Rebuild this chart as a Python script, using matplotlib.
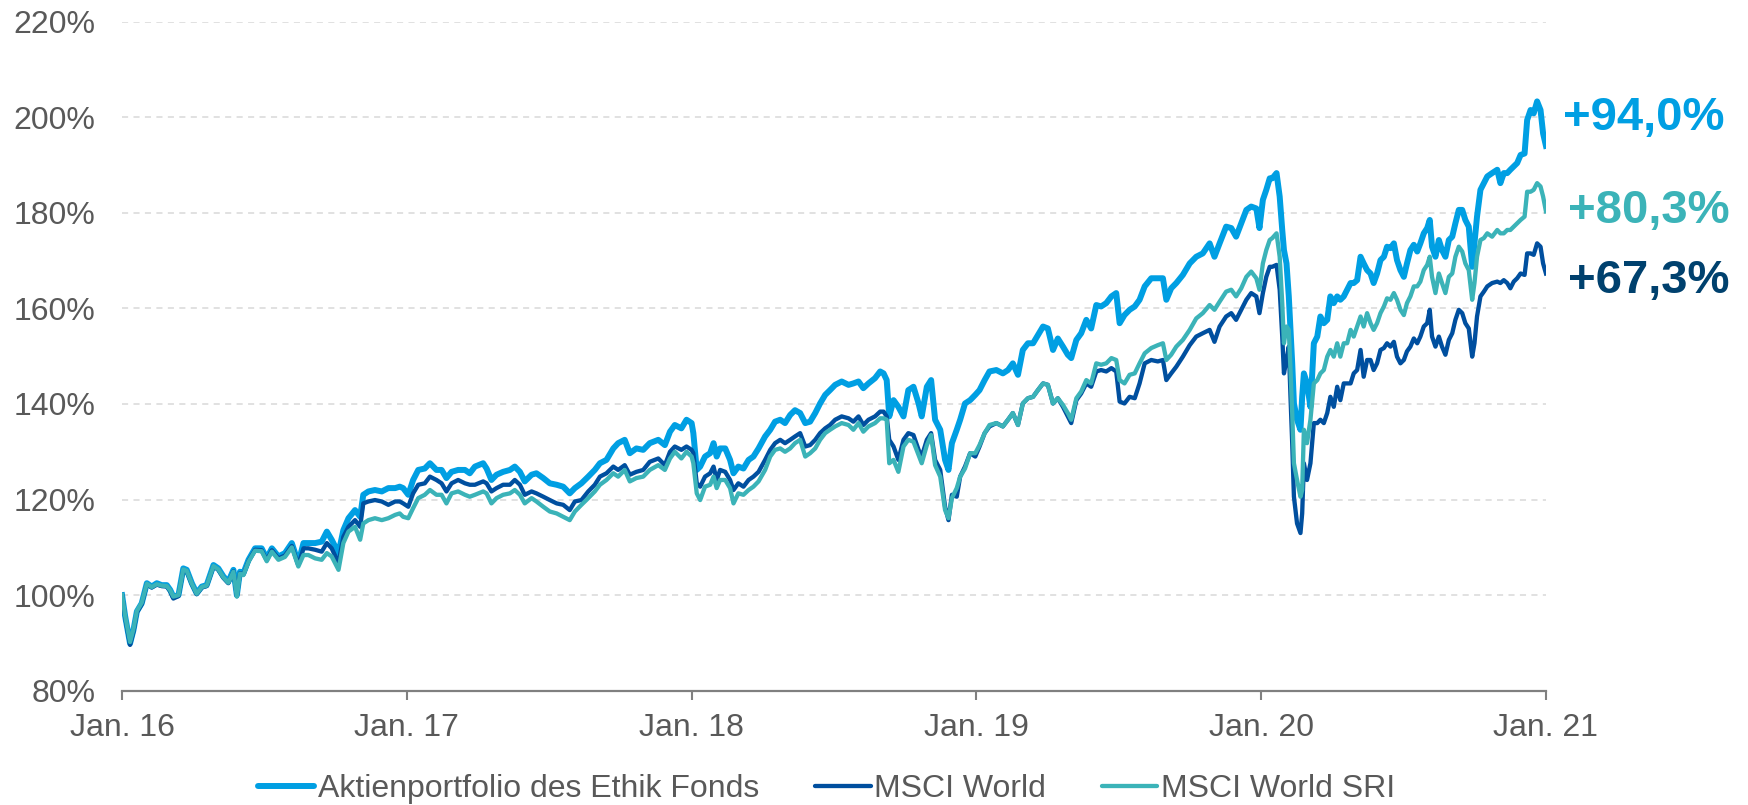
import matplotlib.pyplot as plt
from matplotlib.lines import Line2D

plt.rcParams['font.family'] = ['Liberation Sans', 'DejaVu Sans']

# Zeitachse in Dezimaljahren, Werte in % (Start = 100)
t_years = [
    2016.000, 2016.011, 2016.028, 2016.040, 2016.052, 2016.069, 2016.087, 2016.104, 2016.122, 2016.139,
    2016.157, 2016.169, 2016.180, 2016.198, 2016.215, 2016.227, 2016.245, 2016.262, 2016.280, 2016.297,
    2016.321, 2016.338, 2016.356, 2016.373, 2016.391, 2016.403, 2016.414, 2016.426, 2016.444, 2016.467,
    2016.490, 2016.508, 2016.526, 2016.549, 2016.572, 2016.596, 2016.619, 2016.637, 2016.654, 2016.678,
    2016.701, 2016.719, 2016.736, 2016.760, 2016.777, 2016.795, 2016.818, 2016.836, 2016.847, 2016.865,
    2016.888, 2016.912, 2016.935, 2016.959,
    2016.975, 2016.987, 2017.005, 2017.022, 2017.040, 2017.063, 2017.081, 2017.104, 2017.122, 2017.139,
    2017.157, 2017.180, 2017.204, 2017.221, 2017.239, 2017.268, 2017.280, 2017.297, 2017.315, 2017.338,
    2017.362, 2017.379, 2017.397, 2017.414, 2017.438, 2017.455, 2017.479, 2017.502, 2017.526, 2017.549,
    2017.572, 2017.590, 2017.613, 2017.637, 2017.660, 2017.678, 2017.701, 2017.725, 2017.742, 2017.765,
    2017.783, 2017.806, 2017.830, 2017.853, 2017.883, 2017.906, 2017.924, 2017.941, 2017.964, 2017.982,
    2018.000,
    2018.006, 2018.018, 2018.030, 2018.047, 2018.065, 2018.077, 2018.088, 2018.100, 2018.118, 2018.135,
    2018.147, 2018.164, 2018.182, 2018.200, 2018.217, 2018.235, 2018.258, 2018.276, 2018.293, 2018.311,
    2018.328, 2018.346, 2018.363, 2018.381, 2018.399, 2018.416, 2018.434, 2018.451, 2018.469, 2018.486,
    2018.504, 2018.527, 2018.551, 2018.568, 2018.586, 2018.603, 2018.621, 2018.644, 2018.662, 2018.674,
    2018.685, 2018.694, 2018.709, 2018.726, 2018.744, 2018.761, 2018.779, 2018.797, 2018.808, 2018.826,
    2018.841, 2018.855, 2018.873, 2018.890, 2018.902, 2018.914, 2018.931, 2018.943, 2018.960, 2018.978,
    2018.996,
    2019.011, 2019.029, 2019.046, 2019.070, 2019.093, 2019.111, 2019.128, 2019.146, 2019.163, 2019.181,
    2019.199, 2019.216, 2019.234, 2019.251, 2019.269, 2019.286, 2019.304, 2019.321, 2019.333, 2019.351,
    2019.368, 2019.386, 2019.403, 2019.421, 2019.438, 2019.456, 2019.474, 2019.491, 2019.503, 2019.520,
    2019.538, 2019.556, 2019.573, 2019.591, 2019.614, 2019.637, 2019.655, 2019.667, 2019.684, 2019.702,
    2019.725, 2019.749, 2019.772, 2019.795, 2019.819, 2019.836, 2019.854, 2019.877, 2019.895, 2019.912,
    2019.930, 2019.948, 2019.965, 2019.983, 2019.994,
    2020.006, 2020.018, 2020.030, 2020.039, 2020.054, 2020.065, 2020.074, 2020.080, 2020.089, 2020.097,
    2020.103, 2020.109, 2020.115, 2020.126, 2020.138, 2020.144, 2020.150, 2020.161, 2020.173, 2020.185,
    2020.197, 2020.208, 2020.220, 2020.232, 2020.243, 2020.255, 2020.267, 2020.278, 2020.290, 2020.302,
    2020.314, 2020.325, 2020.337, 2020.349, 2020.360, 2020.372, 2020.384, 2020.395, 2020.407, 2020.419,
    2020.431, 2020.442, 2020.454, 2020.466, 2020.477, 2020.489, 2020.501, 2020.512, 2020.524,
    2020.536, 2020.548, 2020.559, 2020.571, 2020.583, 2020.592, 2020.600, 2020.612, 2020.624, 2020.635,
    2020.647, 2020.659, 2020.671, 2020.682, 2020.694, 2020.706, 2020.717, 2020.729, 2020.741, 2020.749,
    2020.758, 2020.770, 2020.782, 2020.794, 2020.811, 2020.829, 2020.840, 2020.852, 2020.864, 2020.875,
    2020.887, 2020.899, 2020.911, 2020.925, 2020.934, 2020.946, 2020.957, 2020.969, 2020.981, 2020.990,
    2021.000,
]

ethik = [
    100.0, 95.5, 89.9, 92.7, 96.6, 98.3, 102.5, 101.8, 102.5, 102.1,
    102.1, 101.1, 99.7, 100.0, 105.6, 105.3, 102.5, 100.4, 101.8, 102.1,
    106.3, 105.6, 103.9, 102.8, 105.3, 100.0, 104.9, 104.6, 107.4, 109.8,
    109.8, 107.7, 109.8, 108.1, 108.8, 110.9, 106.7, 110.9, 110.9, 110.9,
    111.2, 113.3, 111.6, 108.8, 113.6, 116.1, 117.8, 116.4, 121.0, 121.7,
    122.0, 121.7, 122.4, 122.4,
    122.7, 122.4, 121.0, 124.1, 126.2, 126.5, 127.6, 126.2, 126.2, 124.5,
    125.8, 126.2, 126.2, 125.5, 126.9, 127.6, 126.5, 124.1, 125.2, 125.8,
    126.2, 126.9, 125.8, 123.8, 125.2, 125.5, 124.5, 123.4, 123.1, 122.7,
    121.3, 122.4, 123.4, 124.8, 126.2, 127.6, 128.3, 130.7, 131.8, 132.5,
    129.7, 130.7, 130.4, 131.8, 132.5, 131.4, 134.2, 135.6, 134.9, 136.7,
    136.0,
    133.9, 126.2, 126.9, 129.0, 129.7, 131.8, 129.0, 130.7, 130.7, 128.3,
    125.5, 126.9, 126.5, 128.3, 129.0, 130.7, 133.2, 134.6, 136.3, 136.7,
    136.0, 137.7, 138.7, 138.1, 136.0, 136.3, 138.1, 140.1, 141.9, 142.9,
    144.0, 144.7, 144.0, 144.3, 144.7, 143.3, 144.3, 145.4, 146.8, 146.4,
    145.0, 137.4, 140.8, 139.4, 137.4, 142.9, 143.6, 140.1, 137.4, 143.6,
    145.0, 136.7, 134.6, 128.3, 126.2, 131.8, 134.6, 136.7, 140.1, 140.8,
    141.9,
    142.9, 145.0, 146.8, 147.1, 146.4, 147.1, 148.5, 146.1, 151.3, 152.7,
    152.7, 154.4, 156.2, 155.8, 151.3, 153.7, 152.0, 150.3, 149.6, 153.4,
    154.8, 157.6, 155.8, 160.7, 160.4, 161.1, 162.5, 163.2, 156.9, 158.6,
    159.7, 160.4, 161.8, 164.6, 166.3, 166.3, 166.3, 161.8, 164.2, 165.3,
    167.0, 169.4, 170.8, 171.5, 173.6, 170.8, 173.6, 177.1, 176.8, 175.0,
    177.8, 180.6, 181.3, 180.9, 176.8,
    182.7, 184.8, 187.2, 187.2, 188.3, 183.4, 176.4, 172.2, 169.4, 162.5,
    155.5, 148.5, 140.1, 136.7, 134.6, 141.5, 146.4, 144.3, 139.4, 152.7,
    154.1, 158.3, 156.9, 157.6, 162.5, 161.1, 162.5, 161.8, 162.5, 163.9,
    165.3, 165.3, 165.9, 170.8, 169.4, 168.0, 167.3, 165.3, 167.3, 170.1,
    170.8, 172.9, 172.6, 173.6, 170.1, 168.0, 166.6, 169.4, 172.2,
    173.3, 171.9, 173.6, 175.7, 176.8, 178.5, 172.9, 170.8, 174.3, 172.2,
    170.8, 174.3, 175.0, 177.8, 180.6, 180.6, 178.5, 177.1, 168.7, 173.6,
    179.2, 184.8, 186.2, 187.6, 188.3, 189.0, 186.2, 188.3, 188.3, 189.0,
    189.7, 190.4, 192.1, 192.4, 199.4, 201.5, 200.8, 203.3, 201.5, 196.6,
    194.0,
]

msci_world = [
    100.0, 95.3, 89.6, 92.4, 96.4, 98.1, 102.3, 101.6, 102.2, 101.9,
    101.8, 100.8, 99.3, 99.8, 105.3, 105.0, 102.3, 100.2, 101.6, 101.9,
    106.0, 105.3, 103.6, 102.5, 105.0, 99.8, 104.6, 104.3, 107.1, 109.5,
    109.4, 107.3, 109.4, 107.7, 108.3, 110.3, 106.3, 109.8, 109.8, 109.5,
    109.1, 110.9, 109.8, 106.7, 112.2, 114.3, 115.7, 114.3, 119.2, 119.6,
    119.9, 119.6, 118.9, 119.6,
    119.6, 119.2, 118.5, 121.3, 123.1, 123.4, 124.8, 124.1, 123.4, 121.7,
    123.4, 124.1, 123.4, 123.1, 123.1, 123.8, 123.4, 121.7, 122.4, 123.1,
    123.1, 124.1, 123.1, 121.0, 121.7, 121.3, 120.6, 119.9, 119.2, 118.9,
    117.8, 119.6, 119.9, 121.7, 123.1, 124.8, 125.5, 126.9, 126.2, 127.2,
    125.2, 125.8, 126.2, 127.9, 128.6, 127.2, 130.0, 131.1, 130.4, 131.1,
    130.4,
    129.7, 123.4, 122.7, 124.8, 125.5, 126.9, 124.1, 126.2, 125.8, 124.1,
    122.0, 123.4, 122.7, 124.1, 124.8, 125.8, 128.3, 130.4, 131.8, 132.5,
    131.8, 132.5, 133.2, 133.9, 131.1, 131.4, 132.5, 133.9, 134.9, 135.6,
    136.7, 137.4, 137.0, 136.3, 137.4, 135.6, 136.7, 137.4, 138.4, 138.4,
    137.4, 132.5, 131.1, 128.3, 132.5, 133.9, 133.5, 130.4, 129.0, 132.5,
    133.9, 128.3, 126.2, 118.5, 115.7, 121.0, 120.6, 124.8, 126.9, 129.7,
    129.0,
    131.1, 133.9, 135.3, 136.0, 135.3, 136.7, 138.1, 135.6, 140.1, 141.2,
    141.5, 142.9, 144.3, 144.0, 140.1, 141.2, 139.4, 137.4, 136.0, 140.8,
    142.2, 144.3, 143.6, 146.8, 147.1, 146.8, 147.5, 146.8, 140.5, 140.1,
    141.5, 141.2, 144.3, 148.5, 149.2, 148.9, 149.2, 145.0, 146.4, 147.8,
    149.9, 152.3, 154.1, 154.8, 155.5, 153.0, 156.2, 158.3, 159.0, 157.6,
    159.7, 161.8, 163.2, 162.5, 159.0,
    163.2, 166.6, 168.7, 168.7, 169.1, 163.9, 154.1, 146.4, 149.2, 152.0,
    141.5, 131.8, 120.6, 115.0, 113.0, 117.1, 127.6, 124.1, 127.6, 136.0,
    136.0, 136.7, 136.0, 138.1, 141.5, 139.4, 143.6, 140.8, 144.3, 144.3,
    144.3, 146.4, 147.1, 151.3, 145.7, 149.2, 149.2, 147.1, 148.5, 151.3,
    151.7, 152.7, 152.0, 153.0, 149.9, 148.5, 149.2, 151.0, 152.0,
    153.7, 152.7, 154.1, 156.2, 156.9, 159.7, 154.1, 152.0, 154.1, 152.0,
    150.3, 153.4, 154.8, 157.6, 159.7, 159.0, 156.9, 155.8, 149.9, 152.7,
    158.3, 162.5, 163.5, 164.6, 165.3, 165.6, 165.3, 165.9, 165.3, 164.2,
    165.6, 166.3, 167.3, 167.0, 171.5, 171.5, 171.2, 173.6, 172.9, 169.4,
    167.3,
]

msci_world_sri = [
    100.0, 95.6, 90.2, 92.9, 96.7, 98.4, 102.4, 101.7, 102.3, 102.0,
    101.9, 101.0, 99.7, 100.0, 105.4, 105.1, 102.4, 100.3, 101.7, 102.0,
    106.1, 105.4, 103.7, 102.6, 104.9, 99.7, 104.5, 104.2, 107.0, 109.3,
    109.2, 107.1, 109.1, 107.4, 108.0, 110.0, 106.0, 108.4, 108.4, 107.7,
    107.4, 108.8, 108.1, 105.3, 110.9, 113.3, 114.3, 111.6, 115.0, 115.7,
    116.1, 115.7, 116.1, 116.8,
    117.1, 116.4, 116.1, 118.2, 120.3, 121.0, 122.0, 121.0, 121.0, 119.2,
    121.3, 121.7, 121.0, 120.6, 121.0, 121.7, 121.3, 119.2, 120.3, 121.0,
    121.3, 122.0, 121.0, 119.2, 120.3, 119.6, 118.5, 117.5, 117.1, 116.4,
    115.7, 117.5, 118.9, 120.3, 121.7, 123.1, 124.1, 125.5, 124.8, 126.2,
    123.8, 124.5, 124.8, 126.2, 127.2, 126.2, 128.6, 130.0, 128.6, 130.0,
    129.0,
    127.6, 121.3, 119.9, 122.7, 123.1, 124.8, 122.4, 124.1, 124.1, 122.4,
    119.2, 121.3, 121.0, 122.0, 122.7, 123.8, 126.2, 129.0, 130.4, 130.7,
    130.0, 130.7, 131.8, 132.5, 129.0, 129.7, 130.7, 132.5, 133.9, 134.6,
    135.3, 136.0, 135.6, 134.6, 136.0, 134.2, 135.3, 136.0, 137.0, 137.0,
    136.7, 127.6, 128.3, 125.8, 131.1, 132.5, 132.1, 129.3, 127.6, 131.4,
    133.5, 127.2, 124.8, 117.8, 116.1, 120.3, 122.4, 124.8, 126.5, 129.7,
    129.7,
    131.4, 133.9, 135.6, 136.0, 135.3, 136.7, 138.1, 135.6, 140.1, 141.2,
    141.5, 142.9, 144.3, 144.0, 140.1, 141.2, 139.8, 138.1, 136.7, 141.2,
    142.6, 145.0, 144.3, 148.5, 148.2, 148.5, 149.6, 149.2, 145.0, 144.3,
    146.1, 146.4, 148.5, 150.6, 151.7, 152.3, 152.7, 149.2, 150.3, 152.0,
    153.4, 155.5, 157.9, 159.0, 160.7, 159.7, 161.4, 163.5, 163.9, 162.5,
    164.2, 166.6, 167.7, 166.3, 163.9,
    169.4, 172.2, 174.3, 174.7, 175.7, 170.8, 161.1, 152.7, 156.2, 155.5,
    147.1, 138.1, 127.6, 124.1, 120.6, 122.0, 134.6, 131.8, 136.7, 144.3,
    145.0, 146.4, 147.1, 149.9, 151.3, 149.9, 152.7, 149.9, 152.7, 152.7,
    155.5, 154.1, 156.2, 158.3, 156.2, 159.0, 156.9, 155.5, 156.9, 159.0,
    160.4, 162.1, 161.8, 163.2, 161.8, 159.7, 158.6, 161.1, 162.5,
    164.6, 164.6, 165.6, 168.0, 169.1, 170.8, 166.6, 163.2, 167.3, 165.3,
    163.2, 166.6, 167.3, 170.8, 172.9, 171.9, 169.4, 168.0, 161.8, 165.3,
    170.8, 174.3, 174.7, 175.7, 175.0, 176.4, 175.7, 175.7, 176.4, 176.4,
    177.1, 177.8, 178.5, 179.2, 184.4, 184.4, 184.8, 186.2, 185.5, 183.4,
    180.3,
]

series_names = ["Aktienportfolio des Ethik Fonds", "MSCI World", "MSCI World SRI"]
end_labels = ["+94,0%", "+80,3%", "+67,3%"]
year_ticks = [2016, 2017, 2018, 2019, 2020, 2021]
year_labels = ["Jan. 16", "Jan. 17", "Jan. 18", "Jan. 19", "Jan. 20", "Jan. 21"]
y_ticks = [80, 100, 120, 140, 160, 180, 200, 220]

C_ETHIK = '#009FE3'
C_WORLD = '#004F9F'
C_SRI = '#3BB3B8'
C_DARK = '#00416E'
C_GREY = '#595959'

LW_E = 4.3
LW_B = 3.1

fig = plt.figure(figsize=(17.49, 8.05), dpi=100)
ax = fig.add_axes([0.0698, 0.1419, 0.8141, 0.8313])

ax.plot(t_years, ethik, color=C_ETHIK, lw=LW_E, solid_joinstyle='round', zorder=3)
ax.plot(t_years, msci_world, color=C_WORLD, lw=LW_B, solid_joinstyle='round', zorder=4)
ax.plot(t_years, msci_world_sri, color=C_SRI, lw=LW_B, solid_joinstyle='round', zorder=5)

ax.set_xlim(2016, 2021)
ax.set_ylim(80, 220)
ax.set_yticks(y_ticks)
ax.set_yticklabels([f"{v}%" for v in y_ticks])
ax.set_xticks(year_ticks)
ax.set_xticklabels(year_labels)

# gestrichelte Hilfslinien, nicht bei 80 %
for v in y_ticks[1:]:
    ax.axhline(v, color='#D9D9D9', lw=1.1, ls=(0, (4, 3.5)), zorder=1)

for s in ['top', 'right', 'left']:
    ax.spines[s].set_visible(False)
ax.spines['bottom'].set_color('#808080')
ax.spines['bottom'].set_linewidth(1.6)

ax.tick_params(axis='y', length=0, pad=19, labelsize=23, labelcolor=C_GREY)
ax.tick_params(axis='x', length=6.5, width=1.5, color='#808080', pad=9.5,
               labelsize=23, labelcolor=C_GREY)

# Endwerte rechts neben den Linien
ax.text(2021.06, 197.4, end_labels[0], color=C_ETHIK, fontsize=34, fontweight='bold',
        va='baseline', ha='left', clip_on=False)
ax.text(2021.077, 177.9, end_labels[1], color=C_SRI, fontsize=34, fontweight='bold',
        va='baseline', ha='left', clip_on=False)
ax.text(2021.077, 163.2, end_labels[2], color=C_DARK, fontsize=34, fontweight='bold',
        va='baseline', ha='left', clip_on=False)

handles = [Line2D([], [], color=C_ETHIK, lw=LW_E, solid_capstyle='round'),
           Line2D([], [], color=C_WORLD, lw=LW_B, solid_capstyle='round'),
           Line2D([], [], color=C_SRI, lw=LW_B, solid_capstyle='round')]
leg = fig.legend(handles, series_names, loc='center', bbox_to_anchor=(0.4726, 0.02),
                 ncol=3, frameon=False, fontsize=23, handlelength=1.75,
                 handletextpad=0.1, columnspacing=1.75, borderaxespad=0)
for txt in leg.get_texts():
    txt.set_color(C_GREY)

fig.savefig('out.png', dpi=100)
